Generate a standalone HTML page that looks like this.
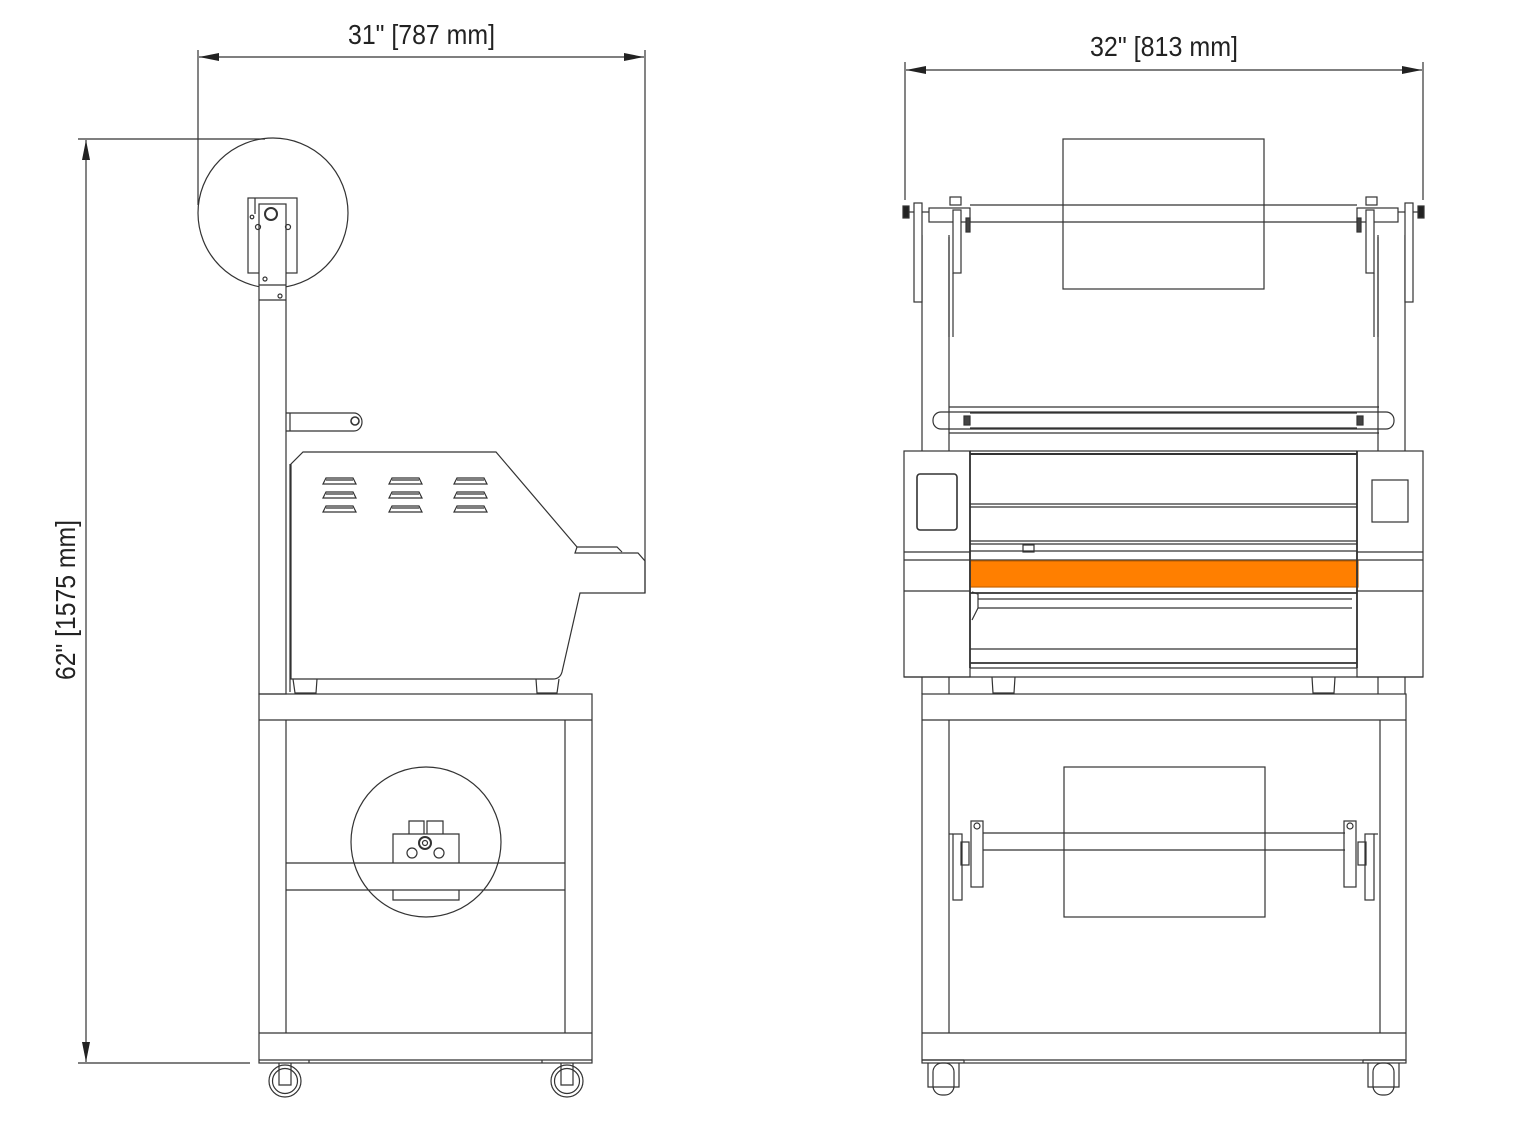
<!DOCTYPE html>
<html><head><meta charset="utf-8"><style>
html,body{margin:0;padding:0;background:#fff}
svg{display:block}
text{font-family:"Liberation Sans Narrow","Liberation Sans",sans-serif;fill:#222}
</style></head><body>
<svg width="1534" height="1126" viewBox="0 0 1534 1126" xmlns="http://www.w3.org/2000/svg">
<defs>
<marker id="ar" viewBox="0 0 20 8" refX="20" refY="4" markerWidth="20" markerHeight="8" orient="auto" markerUnits="userSpaceOnUse"><path d="M0,0 L20,4 L0,8 Z" fill="#222"/></marker>
</defs>
<g fill="none" stroke="#333" stroke-width="1.2">
<!-- LEFT dims -->
<line x1="198" y1="50" x2="198" y2="205"/>
<line x1="645" y1="50" x2="645" y2="593"/>
<line x1="420" y1="57" x2="199" y2="57" marker-end="url(#ar)"/>
<line x1="420" y1="57" x2="644" y2="57" marker-end="url(#ar)"/>
<line x1="78" y1="139" x2="265" y2="139"/>
<line x1="78" y1="1063" x2="250" y2="1063"/>
<line x1="86" y1="600" x2="86" y2="140" marker-end="url(#ar)"/>
<line x1="86" y1="600" x2="86" y2="1062" marker-end="url(#ar)"/>

<!-- top reel -->
<circle cx="273" cy="213" r="75"/>
<rect x="248" y="198" width="49" height="75"/>
<line x1="255" y1="198" x2="255" y2="214"/>
<rect x="259" y="204" width="27" height="490" fill="#fff"/>
<line x1="259" y1="285" x2="286" y2="285"/>
<line x1="259" y1="300" x2="286" y2="300"/>
<circle cx="271" cy="214" r="6" stroke-width="2"/>
<circle cx="252" cy="217" r="1.8"/>
<circle cx="258" cy="227" r="2.5"/><circle cx="288" cy="227" r="2.5"/>
<circle cx="265" cy="279" r="2"/><circle cx="280" cy="296" r="2"/>
<!-- arm -->
<path d="M286,413 H354 A8,9 0 0 1 354,431 H286"/>
<line x1="290" y1="413" x2="290" y2="431"/>
<circle cx="355" cy="421" r="4" stroke-width="1.6"/>
<!-- body -->
<path d="M303,452 H496 L577,547 L575,553 H638 L645,561 V593 H580 L562,672 Q560,679 553,679 H291 V464 Z"/>
<path d="M577,547 L583,547 H617 L622,552"/>
<line x1="290" y1="464" x2="290" y2="692"/>
<path d="M293,679 L295,693 H316 L317,679"/>
<path d="M536,679 L537,693 H557 L559,679"/>
<g id="vent">
<path d="M323,484 L326,478 H353 L356,484 Z M326,480 H353"/>
</g>
<use href="#vent" transform="translate(0,14)"/><use href="#vent" transform="translate(0,28)"/>
<use href="#vent" transform="translate(66,0)"/><use href="#vent" transform="translate(66,14)"/><use href="#vent" transform="translate(66,28)"/>
<use href="#vent" transform="translate(131,0)"/><use href="#vent" transform="translate(131,14)"/><use href="#vent" transform="translate(131,28)"/>

<!-- left stand -->
<rect x="259" y="694" width="333" height="369"/>
<line x1="259" y1="720" x2="592" y2="720"/>
<line x1="286" y1="720" x2="286" y2="1033"/>
<line x1="565" y1="720" x2="565" y2="1033"/>
<line x1="259" y1="1033" x2="592" y2="1033"/>
<line x1="259" y1="1060" x2="592" y2="1060"/>
<line x1="309" y1="1060" x2="309" y2="1063"/><line x1="542" y1="1060" x2="542" y2="1063"/>
<line x1="286" y1="863" x2="565" y2="863"/>
<line x1="286" y1="890" x2="565" y2="890"/>
<circle cx="426" cy="842" r="75"/>
<path d="M393,863 V834 H459 V863 M393,890 V900 H459 V890"/>
<path d="M409,834 V821 H424 V834 M427,834 V821 H443 V834"/>
<circle cx="425" cy="843" r="6" stroke-width="2"/><circle cx="425" cy="843" r="2.5"/>
<circle cx="412" cy="853" r="5"/><circle cx="439" cy="853" r="5"/>
<g id="cast">
<circle cx="285" cy="1081" r="16"/><circle cx="285" cy="1081" r="12.5"/>
<path d="M279,1063 V1085 H291 V1063"/>
</g>
<use href="#cast" transform="translate(282,0)"/>

<!-- RIGHT dims -->
<line x1="905" y1="62" x2="905" y2="200"/>
<line x1="1423" y1="62" x2="1423" y2="200"/>
<line x1="1164" y1="70" x2="906" y2="70" marker-end="url(#ar)"/>
<line x1="1164" y1="70" x2="1422" y2="70" marker-end="url(#ar)"/>
<rect x="1063" y="139" width="201" height="150"/>

<g id="half">
<line x1="922" y1="235" x2="922" y2="451"/>
<line x1="949" y1="235" x2="949" y2="451"/>
<line x1="922" y1="677" x2="922" y2="694"/>
<line x1="949" y1="677" x2="949" y2="694"/>
<rect x="914" y="203" width="8" height="99" fill="#fff"/>
<rect x="929" y="208" width="41" height="14" fill="#fff"/>
<rect x="950" y="197" width="11" height="8"/>
<rect x="953" y="210" width="8" height="63" fill="#fff"/>
<line x1="949" y1="237" x2="949" y2="337"/><line x1="953" y1="273" x2="953" y2="337"/>
<rect x="903" y="206" width="6" height="12" fill="#222"/>
<line x1="909" y1="212" x2="914" y2="212"/>
<line x1="922" y1="212" x2="929" y2="212"/>
<rect x="966" y="218" width="4" height="14" fill="#444"/>
<rect x="964" y="416" width="6" height="9" fill="#444"/>
<rect x="904" y="451" width="66" height="226" fill="#fff"/>
<line x1="904" y1="552" x2="970" y2="552"/>
<line x1="904" y1="560" x2="970" y2="560"/>
<line x1="904" y1="591" x2="970" y2="591"/>
<path d="M992,677 L993,693 H1014 L1015,677"/>
<rect x="971" y="821" width="12" height="66" fill="#fff"/>
<circle cx="977" cy="826" r="3"/>
<rect x="953" y="834" width="9" height="66"/>
<rect x="961" y="842" width="8" height="23"/>
<line x1="949" y1="834" x2="953" y2="834"/>
<path d="M928,1063 V1087 H959 V1063"/>
<rect x="933" y="1063" width="21" height="32" rx="9"/>
<line x1="922" y1="1060" x2="964" y2="1060"/><line x1="964" y1="1060" x2="964" y2="1063"/>
</g>
<use href="#half" transform="translate(2327,0) scale(-1,1)"/>

<line x1="970" y1="205" x2="1357" y2="205"/>
<line x1="970" y1="222" x2="1357" y2="222"/>
<line x1="949" y1="407" x2="1379" y2="407"/>
<line x1="949" y1="433" x2="1379" y2="433"/>
<rect x="933" y="412" width="461" height="17" rx="8"/>
<line x1="970" y1="413" x2="1357" y2="413"/>
<line x1="970" y1="428" x2="1357" y2="428"/>
<line x1="970" y1="451" x2="1357" y2="451"/>
<line x1="970" y1="454" x2="1357" y2="454" stroke-width="2"/>
<line x1="970" y1="504" x2="1357" y2="504"/>
<line x1="970" y1="507" x2="1357" y2="507"/>
<line x1="970" y1="541" x2="1357" y2="541"/>
<line x1="970" y1="544" x2="1357" y2="544"/>
<line x1="970" y1="551" x2="1357" y2="551"/>
<rect x="1023" y="545" width="11" height="7"/>
<line x1="970" y1="560" x2="1357" y2="560"/>
<rect x="970" y="561" width="388" height="26" fill="#ff7f00" stroke="#c86400"/>
<line x1="970" y1="593" x2="1357" y2="593" stroke-width="1.8"/>
<line x1="978" y1="599" x2="1352" y2="599"/>
<line x1="978" y1="608" x2="1352" y2="608"/>
<path d="M972,592 L978,594 V608 L972,620"/>
<line x1="970" y1="649" x2="1357" y2="649"/>
<line x1="970" y1="663" x2="1357" y2="663" stroke-width="1.8"/>
<line x1="970" y1="668" x2="1357" y2="668"/>
<line x1="904" y1="677" x2="1423" y2="677"/>
<line x1="970" y1="451" x2="970" y2="668" stroke-width="1.8"/>
<line x1="1357" y1="451" x2="1357" y2="668" stroke-width="1.8"/>
<rect x="917" y="474" width="40" height="56" rx="3" stroke-width="1.6"/>
<rect x="1372" y="480" width="36" height="42"/>
<rect x="922" y="694" width="484" height="369"/>
<line x1="922" y1="720" x2="1406" y2="720"/>
<line x1="949" y1="720" x2="949" y2="1033"/>
<line x1="1380" y1="720" x2="1380" y2="1033"/>
<line x1="922" y1="1033" x2="1406" y2="1033"/>
<line x1="922" y1="1060" x2="1406" y2="1060"/>
<rect x="1064" y="767" width="201" height="150"/>
<line x1="983" y1="833" x2="1345" y2="833"/>
<line x1="983" y1="850" x2="1345" y2="850"/>
</g>
<text x="348" y="44" font-size="28" textLength="147" lengthAdjust="spacingAndGlyphs">31" [787 mm]</text>
<text x="1090" y="56" font-size="28" textLength="148" lengthAdjust="spacingAndGlyphs">32" [813 mm]</text>
<text transform="translate(75,680) rotate(-90)" font-size="28" textLength="160" lengthAdjust="spacingAndGlyphs">62" [1575 mm]</text>
</svg>
</body></html>
